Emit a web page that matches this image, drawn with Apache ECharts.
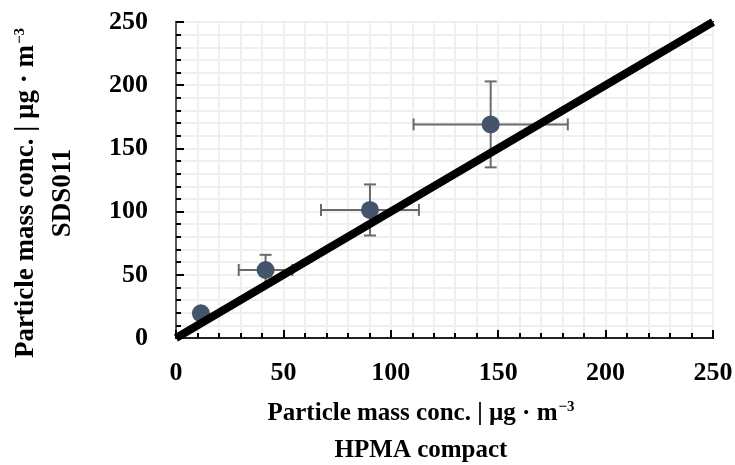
<!DOCTYPE html>
<html>
<head>
<meta charset="utf-8">
<script src="https://cdn.jsdelivr.net/npm/echarts@6/dist/echarts.min.js"></script>
<style>
  html, body { margin: 0; padding: 0; background: #fff; }
  #chart { width: 735px; height: 465px; }
</style>
</head>
<body>
<div id="chart"></div>
<script>
// HPMA compact (x) vs SDS011 (y), mean values and error
var xVals = [11.6, 41.7, 90.3, 146.5];
var yVals = [19.5, 53.8, 101.3, 169.0];
var xErr = [0, 12.5, 22.8, 35.9];
var yErr = [0, 12.0, 20.2, 34.0];
// 1:1 reference line
var diagX = [0, 250];
var diagY = [0, 250];
var axisTicks = [0, 50, 100, 150, 200, 250];

var font = '"Liberation Serif", "Times New Roman", serif';

var pts = [], bars = [];
for (var i = 0; i < xVals.length; i++) {
  pts.push([xVals[i], yVals[i]]);
  bars.push([xVals[i], yVals[i], xErr[i], yErr[i]]);
}
var diag = diagX.map(function (v, i) { return [v, diagY[i]]; });

function nameStyle(size) {
  return {
    fontFamily: font,
    fontWeight: 'bold',
    fontSize: size,
    color: '#000',
    lineHeight: 37,
    rich: {
      a: { fontFamily: font, fontWeight: 'bold', fontSize: size, color: '#000', lineHeight: 37 },
      s: { fontFamily: font, fontWeight: 'bold', fontSize: 15, color: '#000', lineHeight: 15,
           verticalAlign: 'middle', padding: [0, 0, 12, 1] }
    }
  };
}

function axisCommon() {
  return {
    type: 'value',
    min: axisTicks[0],
    max: axisTicks[axisTicks.length - 1],
    interval: 50,
    nameLocation: 'middle',
    axisTick: { show: true, inside: true, length: 8, lineStyle: { color: '#000', width: 2 } },
    minorTick: { show: true, splitNumber: 5, length: 5, lineStyle: { color: '#000', width: 2 } },
    splitLine: { show: true, lineStyle: { color: '#efefef', width: 2 } },
    minorSplitLine: { show: true, lineStyle: { color: '#efefef', width: 2 } },
    axisLabel: { fontFamily: font, fontWeight: 'bold', fontSize: 26, color: '#000' }
  };
}

var xAxis = axisCommon();
xAxis.name = '{a|Particle mass conc. | µg · m}{s|−3}\n{a|HPMA compact}';
xAxis.nameGap = 57;
xAxis.nameTextStyle = nameStyle(25);
xAxis.nameTextStyle.padding = [0, 47, 0, 0];
xAxis.axisLine = { show: true, onZero: false, lineStyle: { color: '#222', width: 2 } };
xAxis.axisLabel.margin = 22;

var yAxis = axisCommon();
yAxis.name = '{a|Particle mass conc. | µg · m}{s|−3}\n{a|SDS011}';
yAxis.nameGap = 94;
yAxis.nameRotate = 90;
yAxis.nameTextStyle = nameStyle(27);
yAxis.nameTextStyle.padding = [0, 26, 0, 0];
yAxis.axisLine = { show: true, onZero: false, lineStyle: { color: '#595959', width: 2 } };
yAxis.axisLabel.margin = 28;

var chart = echarts.init(document.getElementById('chart'));
chart.setOption({
  animation: false,
  grid: {
    left: 176, right: 22, top: 22, bottom: 127,
    containLabel: false, outerBoundsMode: 'none',
    show: true, borderColor: '#000', borderWidth: 2
  },
  xAxis: xAxis,
  yAxis: yAxis,
  series: [
    {
      name: 'error',
      type: 'custom',
      data: bars,
      encode: { x: 0, y: 1 },
      renderItem: function (params, api) {
        var x = api.value(0), y = api.value(1), xe = api.value(2), ye = api.value(3);
        if (!xe && !ye) return;
        var l = api.coord([x - xe, y]), r = api.coord([x + xe, y]);
        var t = api.coord([x, y + ye]), b = api.coord([x, y - ye]);
        var cap = 6;
        var st = { stroke: '#6a6a6a', lineWidth: 2 };
        var seg = function (x1, y1, x2, y2) {
          return { type: 'line', shape: { x1: x1, y1: y1, x2: x2, y2: y2 }, style: st };
        };
        return {
          type: 'group',
          children: [
            seg(l[0], l[1], r[0], r[1]),
            seg(l[0], l[1] - cap, l[0], l[1] + cap),
            seg(r[0], r[1] - cap, r[0], r[1] + cap),
            seg(t[0], t[1], b[0], b[1]),
            seg(t[0] - cap, t[1], t[0] + cap, t[1]),
            seg(b[0] - cap, b[1], b[0] + cap, b[1])
          ]
        };
      }
    },
    {
      name: 'data',
      type: 'scatter',
      data: pts,
      symbolSize: 18,
      itemStyle: { color: '#44546a', opacity: 1 }
    },
    {
      name: '1:1',
      type: 'line',
      data: diag,
      symbol: 'none',
      clip: true,
      lineStyle: { color: '#000', width: 8 }
    }
  ]
});
</script>
</body>
</html>
